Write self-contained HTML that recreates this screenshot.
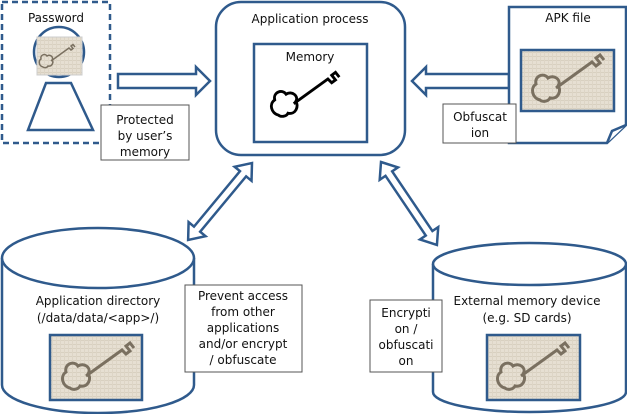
<!DOCTYPE html>
<html><head><meta charset="utf-8"><style>
html,body{margin:0;padding:0;background:#fff;}
svg{display:block;font-family:"DejaVu Sans","Liberation Sans",sans-serif;}
</style></head><body>
<svg width="627" height="414" viewBox="0 0 627 414" xmlns="http://www.w3.org/2000/svg">
<defs>
<pattern id="tex" width="4" height="4" patternUnits="userSpaceOnUse">
<rect width="4" height="4" fill="#e6dfd2"/>
<rect width="4" height="1" fill="#d8d0c0"/>
<rect width="1" height="4" fill="#ddd5c6"/>
</pattern>
<g id="key">
<path d="M-30,18 c-8,-2 -10,-12 -4,-16 c-2,-8 8,-12 12,-6 c6,-4 14,2 10,8 c4,4 0,14 -8,12 c-2,4 -8,4 -10,2 z" fill="none" stroke-width="3"/>
<path d="M-14,6 L22,-20 L26,-16 L30,-19 L26,-24 L30,-27 L34,-22" fill="none" stroke-width="3"/>
</g>
</defs>
<g stroke="#2f5a8c" stroke-width="2.5" fill="#fff">
<!-- Password -->
<rect x="2" y="2" width="108" height="141" stroke-dasharray="6,4"/>
<polygon points="46,83 71,83 93,130 28,130"/>
<circle cx="59" cy="52" r="25"/>
<rect x="37" y="37" width="45" height="38" fill="url(#tex)" stroke="#ccc" stroke-width="1"/>
<rect x="101" y="105" width="88" height="55" stroke="#555" stroke-width="1"/>
<!-- right arrow -->
<polygon points="118,74 196,74 196,67 210,81 196,95 196,88 118,88"/>
<!-- app process -->
<rect x="216" y="2" width="189" height="153" rx="25"/>
<rect x="254" y="44" width="113" height="98"/>
<!-- left arrow -->
<polygon points="509,74 426,74 426,67 412,81 426,95 426,88 509,88"/>
<!-- APK -->
<path d="M509,7 L626,7 L626,125 L607,143 L509,143 Z"/>
<path d="M607,143 L612,131 L626,125" />
<rect x="521" y="50" width="93" height="61" fill="url(#tex)"/>
<rect x="443" y="104" width="73" height="39" stroke="#555" stroke-width="1"/>
<!-- double arrows -->
<polygon transform="translate(252,163) rotate(129.7)" points="0,0 14,-11 14,-4 86,-4 86,-11 100,0 86,11 86,4 14,4 14,11"/>
<polygon transform="translate(381,162) rotate(56)" points="0,0 14,-11 14,-4 86,-4 86,-11 100,0 86,11 86,4 14,4 14,11"/>
<!-- left cylinder -->
<path d="M2,258 L2,385 A96,28 0 0 0 194,385 L194,258"/>
<ellipse cx="98" cy="258" rx="96" ry="30"/>
<rect x="50" y="335" width="92" height="65" fill="url(#tex)"/>
<rect x="185" y="285" width="117" height="87" stroke="#555" stroke-width="1"/>
<!-- right cylinder -->
<path d="M433,264 L433,392 A96.5,20 0 0 0 626,392 L626,264"/>
<ellipse cx="529.5" cy="264" rx="96.5" ry="21"/>
<rect x="487" y="335" width="93" height="65" fill="url(#tex)"/>
<rect x="370" y="300" width="72" height="72" stroke="#555" stroke-width="1"/>
</g>
<!-- keys -->
<use href="#key" transform="translate(58,58) scale(0.5)" stroke="#7a7060"/>
<use href="#key" transform="translate(307,98) scale(0.95)" stroke="#000"/>
<use href="#key" transform="translate(570,82)" stroke="#7a7060"/>
<use href="#key" transform="translate(100,370)" stroke="#7a7060"/>
<use href="#key" transform="translate(535,370)" stroke="#7a7060"/>
<g font-size="12" fill="#111" text-anchor="middle">
<text x="56" y="22">Password</text>
<text x="145" y="124">Protected</text>
<text x="145" y="140">by user’s</text>
<text x="145" y="156">memory</text>
<text x="310" y="23">Application process</text>
<text x="310" y="61">Memory</text>
<text x="568" y="22">APK file</text>
<text x="480" y="121">Obfuscat</text>
<text x="480" y="137">ion</text>
<text x="98" y="305">Application directory</text>
<text x="98" y="322">(/data/data/&lt;app&gt;/)</text>
<text x="243" y="300">Prevent access</text>
<text x="243" y="316">from other</text>
<text x="243" y="332">applications</text>
<text x="243" y="348">and/or encrypt</text>
<text x="243" y="364">/ obfuscate</text>
<text x="527" y="305">External memory device</text>
<text x="527" y="322">(e.g. SD cards)</text>
<text x="406" y="317">Encrypti</text>
<text x="406" y="333">on /</text>
<text x="406" y="349">obfuscati</text>
<text x="406" y="365">on</text>
</g>
</svg>
</body></html>
